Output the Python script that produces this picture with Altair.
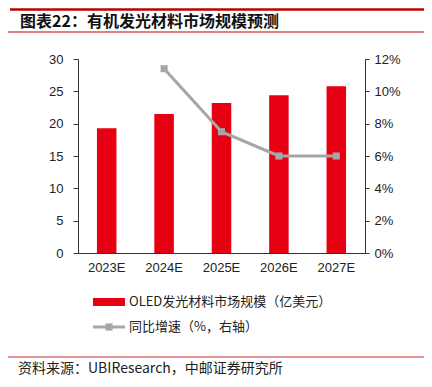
import altair as alt
import pandas as pd

years = ["2023E", "2024E", "2025E", "2026E", "2027E"]
market = [19.3, 21.5, 23.2, 24.4, 25.8]
growth = [None, 0.114, 0.075, 0.060, 0.060]

title_text = "图表22：有机发光材料市场规模预测"
source_text = "资料来源：UBIResearch，中邮证券研究所"
legend_labels = ["OLED发光材料市场规模（亿美元）", "同比增速（%，右轴）"]

BAR = "#E60012"
GRAY = "#A6A6A6"
RED_LINE = "#C00000"
TXT = "#222222"
FONT = "Liberation Sans"
CJK = "Noto Sans CJK SC"

df = pd.DataFrame({"year": years, "market": market, "growth": growth})
line_df = df.dropna(subset=["growth"])

xenc = alt.X("year:N", sort=years, title=None,
             scale=alt.Scale(paddingInner=0.66, paddingOuter=0.33),
             axis=alt.Axis(labelAngle=0, ticks=False, domainColor="#333333",
                           labelFontSize=13, labelColor=TXT, labelFont=FONT,
                           labelPadding=8))

bars = alt.Chart(df).mark_bar(color=BAR).encode(
    x=xenc,
    y=alt.Y("market:Q", title=None,
            scale=alt.Scale(domain=[0, 30]),
            axis=alt.Axis(values=[0, 5, 10, 15, 20, 25, 30], grid=False,
                          domainColor="#333333", tickColor="#333333", tickSize=5,
                          labelFontSize=13, labelColor=TXT, labelFont=FONT,
                          labelPadding=10)),
)

line = alt.Chart(line_df).mark_line(
    color=GRAY, strokeWidth=3,
    point=alt.OverlayMarkDef(shape="square", size=50, color=GRAY, filled=True, opacity=1),
).encode(
    x=alt.X("year:N", sort=years),
    y=alt.Y("growth:Q", title=None,
            scale=alt.Scale(domain=[0, 0.12]),
            axis=alt.Axis(orient="right", format=".0%",
                          values=[0, 0.02, 0.04, 0.06, 0.08, 0.10, 0.12], grid=False,
                          domainColor="#333333", tickColor="#333333", tickSize=4,
                          labelFontSize=13, labelColor=TXT, labelFont=FONT,
                          labelPadding=5)),
)

main = alt.layer(bars, line).resolve_scale(y="independent")

# decorations (title, rules, legend, source)
dummy = pd.DataFrame({"a": [0]})

top_rule = alt.Chart(dummy).mark_rule(color=RED_LINE, strokeWidth=2.5).encode(
    x=alt.value(-68), x2=alt.value(346), y=alt.value(-49.5))
sub_rule = alt.Chart(dummy).mark_rule(color=RED_LINE, strokeWidth=1).encode(
    x=alt.value(-70), x2=alt.value(346), y=alt.value(-27))
bottom_rule = alt.Chart(dummy).mark_rule(color="#D03030", strokeWidth=1).encode(
    x=alt.value(-70), x2=alt.value(346), y=alt.value(298))

title = alt.Chart(pd.DataFrame({"t": [title_text]})).mark_text(
    align="left", baseline="middle", font=CJK, fontWeight="bold", fontSize=16,
    color="#111111").encode(x=alt.value(-58), y=alt.value(-37.5), text="t:N")

source = alt.Chart(pd.DataFrame({"t": [source_text]})).mark_text(
    align="left", baseline="middle", font=CJK, fontSize=14, color=TXT).encode(
    x=alt.value(-60), y=alt.value(310), text="t:N")

leg_bar = alt.Chart(dummy).mark_rect(color=BAR).encode(
    x=alt.value(15), x2=alt.value(47), y=alt.value(239), y2=alt.value(247))
leg_line = alt.Chart(dummy).mark_rule(color=GRAY, strokeWidth=3).encode(
    x=alt.value(15), x2=alt.value(47), y=alt.value(268))
leg_pt = alt.Chart(dummy).mark_square(color=GRAY, size=50, opacity=1).encode(
    x=alt.value(31), y=alt.value(268))
leg_t1 = alt.Chart(pd.DataFrame({"t": [legend_labels[0]]})).mark_text(
    align="left", baseline="middle", font=CJK, fontSize=13, color=TXT).encode(
    x=alt.value(51), y=alt.value(243), text="t:N")
leg_t2 = alt.Chart(pd.DataFrame({"t": [legend_labels[1]]})).mark_text(
    align="left", baseline="middle", font=CJK, fontSize=13, color=TXT).encode(
    x=alt.value(51), y=alt.value(268), text="t:N")

chart = alt.layer(
    main, top_rule, sub_rule, bottom_rule, title, source,
    leg_bar, leg_line, leg_pt, leg_t1, leg_t2
).properties(
    width=287, height=194,
    padding={"left": 70, "top": 51, "right": 59, "bottom": 126},
    autosize="none",
    background="white",
).configure_view(stroke=None)

chart.save("out.html", embed_options={"renderer": "svg", "actions": False})
